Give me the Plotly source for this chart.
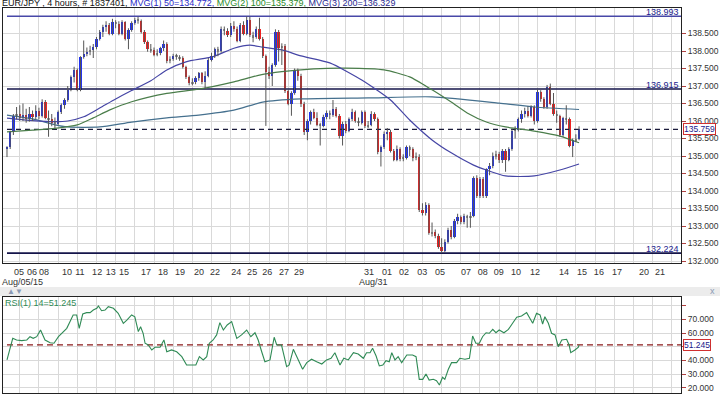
import plotly.graph_objects as go

# ---------------- data ----------------
first_open = 135.20
closes = [135.26,135.69,136.15,136.20,136.10,136.18,136.05,136.20,136.12,136.30,
          136.15,136.55,136.10,136.05,135.95,135.92,136.25,136.45,136.60,136.90,
          137.25,137.45,136.88,137.82,137.92,137.98,138.02,138.11,138.35,138.55,
          138.68,138.74,138.50,138.82,138.78,138.50,138.82,138.35,138.60,138.80,
          138.88,138.86,138.55,138.25,138.05,138.02,137.90,137.93,138.08,138.20,
          137.72,137.76,137.86,137.84,137.80,137.55,137.25,137.08,137.12,137.22,
          137.36,137.12,137.30,137.75,137.85,138.05,138.00,138.62,138.58,138.45,
          138.72,138.62,138.30,138.75,138.50,138.90,138.45,138.40,138.62,138.35,
          137.85,137.40,137.30,137.60,138.55,138.10,138.15,136.85,136.50,136.80,
          137.45,137.30,136.50,135.70,136.00,136.25,136.10,135.90,135.86,136.12,
          136.22,136.18,136.35,136.15,135.58,135.92,135.72,136.05,136.25,136.00,
          135.95,136.25,135.85,135.90,136.20,136.05,135.12,135.25,135.62,135.70,
          135.15,134.90,135.20,134.92,134.95,135.25,135.20,134.95,134.97,133.47,
          133.38,133.60,132.80,132.83,132.72,132.40,132.28,132.55,132.90,132.70,
          133.15,133.25,133.12,133.28,133.25,133.30,134.38,133.85,134.35,133.85,
          134.62,134.72,135.00,135.05,134.88,135.15,134.90,135.20,135.72,135.75,
          136.05,136.20,136.28,136.15,136.40,136.00,136.83,136.62,136.40,136.98,
          136.50,136.20,136.15,135.60,136.08,136.05,135.30,135.45,135.50,135.759]
highs = [135.28,135.72,136.20,136.40,136.45,136.50,136.35,136.40,136.30,136.45,
         136.38,136.62,136.60,136.30,136.20,136.10,136.30,136.50,136.65,137.00,
         137.30,137.55,137.50,137.85,138.30,138.10,138.15,138.20,138.40,138.60,
         138.75,138.85,138.80,138.92,138.88,138.85,138.88,138.85,138.65,138.85,
         138.95,138.98,138.90,138.60,138.30,138.20,138.10,138.05,138.12,138.30,
         138.25,137.85,137.92,137.92,137.88,137.85,137.58,137.30,137.22,137.28,
         137.40,137.40,137.42,137.80,137.95,138.10,138.12,138.70,138.70,138.65,
         138.80,138.85,138.70,138.80,138.85,138.99,138.98,138.55,138.70,138.95,
         138.40,137.90,137.55,137.65,138.62,138.60,138.22,138.20,136.90,136.85,
         137.50,137.50,137.35,136.55,136.05,136.30,136.35,136.25,135.95,136.18,
         136.30,136.30,136.60,136.40,136.20,135.98,136.00,136.10,136.35,136.30,
         136.10,136.30,136.30,136.00,136.28,136.25,136.10,135.30,135.70,135.80,
         135.75,135.20,135.30,135.25,135.05,135.30,135.30,135.25,135.10,135.05,
         133.65,133.68,133.65,133.10,132.90,132.78,132.65,132.62,132.95,133.00,
         133.20,133.35,133.30,133.35,133.32,133.40,134.42,134.45,134.40,134.40,
         134.65,134.80,135.10,135.15,135.12,135.20,135.20,135.25,135.78,135.85,
         136.10,136.30,136.38,136.42,136.45,136.45,136.90,136.88,136.68,137.03,
         137.07,136.80,136.30,136.18,136.12,136.45,136.10,135.50,135.62,135.85]
lows = [134.97,135.20,135.60,136.05,136.00,136.00,135.95,135.98,136.00,136.05,
        136.05,136.10,136.05,135.55,135.85,135.80,135.88,136.20,136.35,136.55,
        136.85,137.10,136.85,136.85,137.78,137.85,137.88,137.80,138.05,138.30,
        138.40,138.55,138.45,138.45,138.65,138.45,138.45,138.30,138.05,138.55,
        138.75,138.78,138.50,138.20,137.98,137.95,137.85,137.85,137.88,138.00,
        137.65,137.65,137.72,137.75,137.72,137.50,137.20,137.02,137.02,137.05,
        137.15,137.05,136.90,137.25,137.70,137.80,137.85,137.95,138.45,138.40,
        138.40,138.55,138.25,138.25,138.45,138.45,138.40,138.25,138.35,138.30,
        137.80,135.86,137.20,137.00,137.55,137.70,137.60,136.80,136.45,136.15,
        136.75,137.15,136.40,135.60,135.45,135.90,136.05,135.85,135.30,135.82,
        136.05,136.05,136.12,136.10,135.50,135.30,135.65,135.68,136.00,135.95,
        135.85,135.90,135.80,135.80,135.85,136.00,135.05,134.70,135.20,135.45,
        135.10,134.85,134.85,134.85,134.85,134.90,135.00,134.85,134.88,133.40,
        133.30,133.30,132.75,132.70,132.65,132.35,132.224,132.25,132.50,132.62,
        132.65,133.05,133.05,133.05,132.95,132.95,133.25,133.80,133.80,133.80,
        133.80,134.45,134.65,134.90,134.80,134.80,134.55,134.85,135.15,135.50,
        135.70,135.95,136.10,136.10,136.10,135.90,135.95,136.55,136.35,136.35,
        136.45,136.15,135.95,135.55,135.55,135.90,135.25,134.97,135.40,135.45]

ma50_x = [0, 8, 15, 19, 24, 29, 34, 39, 45, 50, 56, 64.5, 71, 76, 80, 86, 92, 101,
          111, 120, 126, 133, 139, 146, 150, 156, 165, 173, 179]
ma50_y = [136.08, 136.01, 135.98, 136.00, 136.12, 136.37, 136.63, 136.87, 137.15,
          137.46, 137.69, 137.84, 138.08, 138.17, 138.11, 138.03, 137.86, 137.66,
          137.17, 136.60, 136.03, 135.46, 135.09, 134.74, 134.60, 134.43, 134.43,
          134.60, 134.772]
ma100_x = [0, 8, 15, 22, 27, 32, 39, 50, 60, 71, 79, 86, 96, 106, 118, 126, 133,
           139, 144, 150, 156, 165, 173, 179]
ma100_y = [135.69, 135.74, 135.79, 135.89, 136.09, 136.31, 136.55, 136.79, 136.91,
           137.12, 137.31, 137.41, 137.49, 137.51, 137.46, 137.26, 136.89, 136.54,
           136.23, 135.97, 135.83, 135.71, 135.57, 135.379]
ma200_x = [0, 8, 15, 19, 29, 39, 50, 60, 71, 80, 92, 113, 133, 154, 165, 179]
ma200_y = [136.17, 136.06, 135.89, 135.83, 135.83, 135.97, 136.09, 136.17, 136.31,
           136.54, 136.63, 136.66, 136.69, 136.51, 136.40, 136.329]

rsi_x = [0, 1.8, 3.0, 4.6, 6.2, 7.2, 8.2, 9.3, 10.5, 11.9, 13.5, 14.7, 16.1, 17.6,
         18.7, 19.7, 20.7, 21.8, 22.6, 23.7, 24.9, 26.0, 27.0, 28.1, 28.6, 29.6,
         30.7, 31.7, 33.3, 34.8, 36.4, 37.5, 39.0, 40.0, 41.1, 41.8, 42.6, 43.2,
         44.2, 45.3, 46.3, 47.9, 49.1, 50.0, 51.5, 53.1, 54.7, 56.2, 57.8, 59.1,
         60.2, 61.4, 62.5, 63.3, 64.5, 65.6, 66.6, 67.7, 68.9, 70.3, 71.9, 73.4,
         75.0, 76.3, 77.6, 78.6, 79.7, 80.7, 82.3, 83.6, 84.4, 85.9, 87.5, 88.3,
         89.6, 90.6, 91.1, 92.5, 93.8, 95.3, 96.9, 98.5, 100.0, 101.4, 102.6, 104.2,
         105.4, 106.8, 108.4, 109.9, 111.5, 112.5, 113.6, 114.4, 115.5, 116.5,
         117.6, 118.6, 119.6, 120.4, 121.4, 122.4, 123.5, 125.1, 126.9, 128.0,
         129.0, 130.1, 131.1, 132.1, 133.4, 134.4, 135.3, 136.3, 137.0, 138.1,
         139.1, 140.7, 141.7, 143.3, 144.7, 145.7, 146.7, 147.8, 148.8, 149.9,
         150.9, 152.0, 153.0, 154.0, 155.5, 156.9, 158.2, 159.5, 161.0, 162.6,
         163.6, 164.5, 165.7, 166.8, 167.6, 168.3, 169.4, 170.4, 171.5, 172.5,
         173.6, 175.1, 175.9, 176.4, 177.7, 178.8, 179.0]
rsi_v = [40.3, 56.1, 54.9, 54.4, 54.9, 57.3, 56.1, 57.3, 62.2, 54.9, 52.9, 52.5,
         57.3, 61.0, 63.4, 68.3, 73.2, 73.2, 63.4, 73.9, 74.9, 74.9, 76.8, 78.1,
         79.8, 76.3, 76.8, 79.3, 78.1, 74.4, 67.1, 69.5, 73.2, 71.9, 61.0, 64.6,
         59.8, 52.5, 51.2, 47.6, 49.6, 49.6, 54.9, 46.3, 47.6, 46.3, 42.7, 36.6,
         36.6, 36.6, 42.7, 40.3, 42.7, 52.5, 54.9, 58.6, 67.6, 62.2, 65.9, 68.3,
         56.1, 58.6, 62.2, 57.3, 60.2, 54.9, 46.3, 39.0, 40.3, 56.9, 51.2, 51.2,
         35.4, 36.6, 48.1, 42.7, 40.3, 33.5, 38.3, 40.8, 39.0, 37.3, 40.3, 41.5,
         45.6, 36.6, 41.5, 40.3, 45.6, 44.6, 41.5, 45.6, 45.6, 48.8, 43.2, 35.9,
         36.6, 39.8, 39.0, 45.6, 40.3, 42.7, 38.3, 43.9, 43.9, 42.7, 26.1, 26.1,
         30.0, 25.6, 26.1, 25.1, 22.0, 27.6, 26.1, 33.5, 38.3, 38.3, 41.5, 40.8,
         41.5, 57.8, 52.5, 52.5, 57.3, 60.2, 59.8, 62.7, 60.2, 62.2, 60.2, 62.7,
         67.1, 71.5, 72.4, 74.9, 70.8, 67.1, 74.4, 73.2, 66.6, 71.9, 67.1, 59.8,
         58.6, 50.0, 54.9, 55.4, 51.2, 45.6, 47.6, 49.6, 51.245]

level_high = 138.993
level_mid = 136.915
level_low = 132.224
last_price = 135.759
last_rsi = 51.245

price_ticks = [132.0, 132.5, 133.0, 133.5, 134.0, 134.5, 135.0, 135.5, 136.0,
               136.5, 137.0, 137.5, 138.0, 138.5]
rsi_ticks = [20, 30, 40, 50, 60, 70, 80]
rsi_tick_labels = ["20.000", "30.000", "40.000", "", "60.000", "70.000", ""]

day_pos = [3.75, 7.8, 11.6, 18.8, 22.8, 28.2, 32.5, 36.6, 43.5, 48.8, 54.1, 60.1,
           65.1, 71.7, 76.7, 81.4, 86.7, 91.4, 113.3, 118.9, 124.2, 129.9, 135.5,
           143.6, 148.9, 153.9, 159.3, 165.2, 174.3, 179.9, 185.2, 190.9, 199.3, 204.3]
day_labels = ["05", "06", "08", "10", "11", "12", "13", "15", "17", "18", "19", "20",
              "22", "24", "25", "26", "27", "29", "31", "01", "02", "03", "05", "07",
              "08", "09", "10", "12", "14", "15", "16", "17", "20", "21"]
month_label_pos = 109.5

# ---------------- derived ----------------
n = len(closes)
idx = list(range(n))
opens = [first_open] + closes[:-1]
X0, X1 = -1.25, 210.9
BLUE, RED, GRAY = "#2233ee", "#ee2222", "#9a9a9a"

colors, bases, heights = [], [], []
for o, c in zip(opens, closes):
    if abs(c - o) < 0.055:
        colors.append(GRAY)
    elif c > o:
        colors.append(BLUE)
    else:
        colors.append(RED)
    bases.append(min(o, c))
    heights.append(max(abs(c - o), 0.03))

wx, wy = [], []
for i, h, l in zip(idx, highs, lows):
    wx += [i, i, None]
    wy += [l, h, None]

FONT = "Liberation Sans, Arial, sans-serif"
fig = go.Figure()

# level lines
for v, col in [(level_high, "#4848a8"), (level_mid, "#15154a"), (level_low, "#15154a")]:
    fig.add_trace(go.Scatter(x=[0, X1], y=[v, v], mode="lines",
                             line=dict(color=col, width=1.6), hoverinfo="skip"))
fig.add_trace(go.Scatter(x=[0, X1], y=[last_price, last_price], mode="lines",
                         line=dict(color="#1a1a3a", width=1.2, dash="5px,4px"),
                         hoverinfo="skip"))

# moving averages
for xs, ys, col in [(ma200_x, ma200_y, "#45708e"), (ma100_x, ma100_y, "#4a7d4a"),
                    (ma50_x, ma50_y, "#4545a5")]:
    fig.add_trace(go.Scatter(x=xs, y=ys, mode="lines",
                             line=dict(color=col, width=1.2, shape="spline", smoothing=0.6),
                             hoverinfo="skip"))

# candles
fig.add_trace(go.Scatter(x=wx, y=wy, mode="lines", line=dict(color="#555555", width=1),
                         hoverinfo="skip"))
fig.add_trace(go.Bar(x=idx, y=heights, base=bases, width=0.72,
                     marker=dict(color=colors, line=dict(width=0)), hoverinfo="skip"))

# RSI
fig.add_trace(go.Scatter(x=[0, X1], y=[last_rsi, last_rsi], mode="lines",
                         line=dict(color="#8b1a1a", width=1.2, dash="6px,4px"),
                         xaxis="x2", yaxis="y2", hoverinfo="skip"))
fig.add_trace(go.Scatter(x=rsi_x, y=rsi_v, mode="lines",
                         line=dict(color="#2f8a55", width=1.1),
                         xaxis="x2", yaxis="y2", hoverinfo="skip"))

W, H = 720.0, 394.0
L, R = 3 / W, 681 / W
GRID = "#d9d9d9"
AX = "#222222"
TICKC = "#b04040"

fig.update_layout(
    width=720, height=394, margin=dict(l=0, r=0, t=0, b=0, autoexpand=False),
    paper_bgcolor="white", plot_bgcolor="white", showlegend=False,
    font=dict(family=FONT, size=9, color="#333333"),
    bargap=0,
    xaxis=dict(domain=[L, R], range=[X0, X1], anchor="y",
               tickmode="array", tickvals=day_pos, ticktext=day_labels,
               showgrid=False, ticks="", ticklabelstandoff=0,
               showline=True, linecolor=AX, mirror=True, zeroline=False,
               tickfont=dict(size=9, color="#333"),
               minor=dict(tickmode="linear", tick0=4, dtick=6, showgrid=True,
                          gridcolor=GRID, gridwidth=1, ticks="")),
    yaxis=dict(domain=[1 - 263 / H, 1 - 8 / H], range=[131.943, 139.229],
               side="right", tickmode="array", tickvals=price_ticks,
               ticktext=[f"{v:.3f}" for v in price_ticks],
               showgrid=True, gridcolor=GRID, ticks="outside", ticklen=4,
               tickcolor=TICKC, showline=True, linecolor=AX, mirror=True,
               zeroline=False, tickfont=dict(size=8.5, color="#333")),
    xaxis2=dict(domain=[L, R], range=[X0, X1], anchor="y2",
                tickmode="linear", tick0=4, dtick=6, showticklabels=False, ticks="",
                showgrid=True, gridcolor=GRID, showline=True, linecolor=AX,
                mirror=True, zeroline=False),
    yaxis2=dict(domain=[1 - 393 / H, 1 - 297 / H], range=[16.1, 86.35], anchor="x2",
                side="right", tickmode="array", tickvals=rsi_ticks,
                ticktext=rsi_tick_labels, showgrid=True, gridcolor=GRID,
                ticks="outside", ticklen=4, tickcolor=TICKC, showline=True,
                linecolor=AX, mirror=True, zeroline=False,
                tickfont=dict(size=8.5, color="#333")),
)

# separator band between panels
fig.add_shape(type="rect", xref="paper", yref="paper", x0=0, x1=1,
              y0=1 - 296 / H, y1=1 - 287 / H, fillcolor="#ececec",
              line=dict(width=0), layer="below")

title = ("EUR/JPY , 4 hours, # 1837401, "
         "<span style='color:#2c2cc8'>MVG(1) 50=134.772,</span> "
         "<span style='color:#2a8a2a'>MVG(2) 100=135.379,</span> "
         "<span style='color:#2a2a90'>MVG(3) 200=136.329</span>")
ann = [
    dict(text=title, x=0, y=1 - 3 / H, xref="paper", yref="paper",
         xanchor="left", yanchor="middle", showarrow=False,
         font=dict(size=9, color="#111")),
    dict(text=f"{level_high:.3f}", x=R, y=level_high, xref="paper", yref="y",
         xanchor="right", yanchor="middle", yshift=4, showarrow=False,
         font=dict(size=9, color="#1a1a8c")),
    dict(text=f"{level_mid:.3f}", x=R, y=level_mid, xref="paper", yref="y",
         xanchor="right", yanchor="middle", yshift=4, showarrow=False,
         font=dict(size=9, color="#1a1a8c")),
    dict(text=f"{level_low:.3f}", x=R, y=level_low, xref="paper", yref="y",
         xanchor="right", yanchor="middle", yshift=4, showarrow=False,
         font=dict(size=9, color="#1a1a8c")),
    dict(text=f"{last_price:.3f}", x=683 / W, y=last_price, xref="paper", yref="y",
         xanchor="left", yanchor="middle", showarrow=False, bgcolor="white",
         bordercolor="#d03030", borderwidth=1, borderpad=0,
         font=dict(size=8.5, color="#1a1a8c")),
    dict(text=f"{last_rsi:.3f}", x=683 / W, y=last_rsi, xref="paper", yref="y2",
         xanchor="left", yanchor="middle", showarrow=False, bgcolor="white",
         bordercolor="#d03030", borderwidth=1, borderpad=0,
         font=dict(size=8.5, color="#1a1a8c")),
    dict(text=f"RSI(1) 14={last_rsi:.3f}", x=3 / W, y=1 - 303 / H, xref="paper",
         yref="paper", xanchor="left", yanchor="middle", showarrow=False,
         font=dict(size=9, color="#2f8a55")),
    dict(text="Aug/05/15", x=0, y=1 - 281.5 / H, xref="paper", yref="paper",
         xanchor="left", yanchor="middle", showarrow=False,
         font=dict(size=9, color="#333")),
    dict(text="Aug/31", x=month_label_pos, y=1 - 281.5 / H, xref="x", yref="paper",
         xanchor="left", yanchor="middle", showarrow=False,
         font=dict(size=9, color="#333")),
    dict(text="▲▼", x=5 / W, y=1 - 291.5 / H, xref="paper", yref="paper",
         xanchor="left", yanchor="middle", showarrow=False,
         font=dict(size=8, color="#8a9ab5")),
    dict(text="x", x=712 / W, y=1 - 291 / H, xref="paper", yref="paper",
         xanchor="center", yanchor="middle", showarrow=False,
         font=dict(size=9, color="#8a9ab5")),
]
fig.update_layout(annotations=ann)

fig.write_html("out.html", config={"displayModeBar": False},
               post_script="document.body.style.margin='0';document.body.style.overflow='hidden';")
